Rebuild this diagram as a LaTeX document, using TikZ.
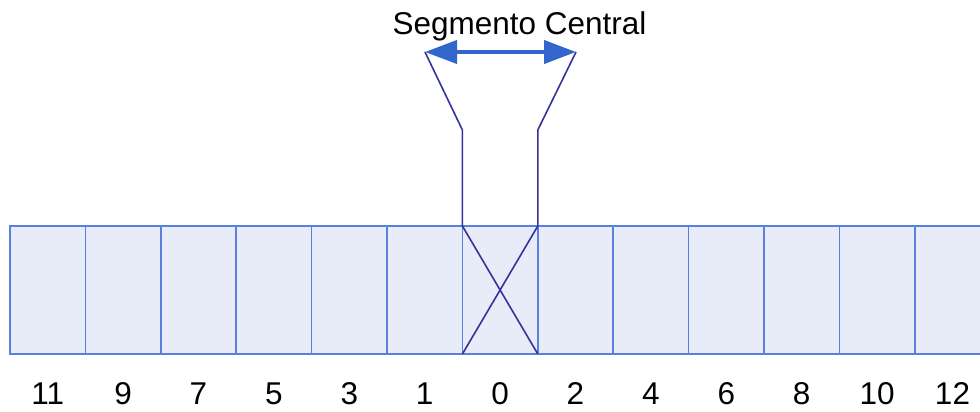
\documentclass[tikz,border=0pt]{standalone}
\usepackage{fontspec}
\setmainfont{Liberation Sans}
\usetikzlibrary{arrows.meta}
\definecolor{cellfill}{HTML}{E8ECF8}
\definecolor{cellline}{HTML}{5B7FE0}
\definecolor{darkline}{HTML}{33339A}
\definecolor{arrowblue}{HTML}{3366CC}
\begin{document}
\begin{tikzpicture}[x=1pt,y=-1pt,
  cell/.style={draw=cellline, fill=cellfill, line width=1.6pt, minimum width=75.4pt, minimum height=128pt, inner sep=0pt, outer sep=0pt, anchor=north west},
  lbl/.style={font=\fontsize{31.5}{36}\selectfont, anchor=base, inner sep=0pt},
  funnel/.style={draw=darkline, line width=1.6pt},
  span/.style={draw=arrowblue, line width=4pt, {Triangle[length=32pt,width=23pt]}-{Triangle[length=32pt,width=23pt]}}
]
\useasboundingbox (0,0) rectangle (980,412);
\foreach \t [count=\k from 0] in {11,9,7,5,3,1,0,2,4,6,8,10,12} {
  \node[cell] (b\k) at ({10+75.4*\k},226) {};
  \node[lbl] (l\k) at ({10+75.4*\k+37.7},404) {\t};
}
\draw[funnel] (b6.north west) -- (b6.south east);
\draw[funnel] (b6.north east) -- (b6.south west);
\coordinate (al) at (425,52);
\coordinate (ar) at (576,52);
\draw[funnel] (b6.north west) -- ++(0,-96) -- (al);
\draw[funnel] (b6.north east) -- ++(0,-96) -- (ar);
\draw[span] (al) -- (ar);
\node[font=\fontsize{31.5}{37}\selectfont, anchor=base, inner sep=0pt] (title) at (519.5,35) {Segmento Central};
\end{tikzpicture}
\end{document}
